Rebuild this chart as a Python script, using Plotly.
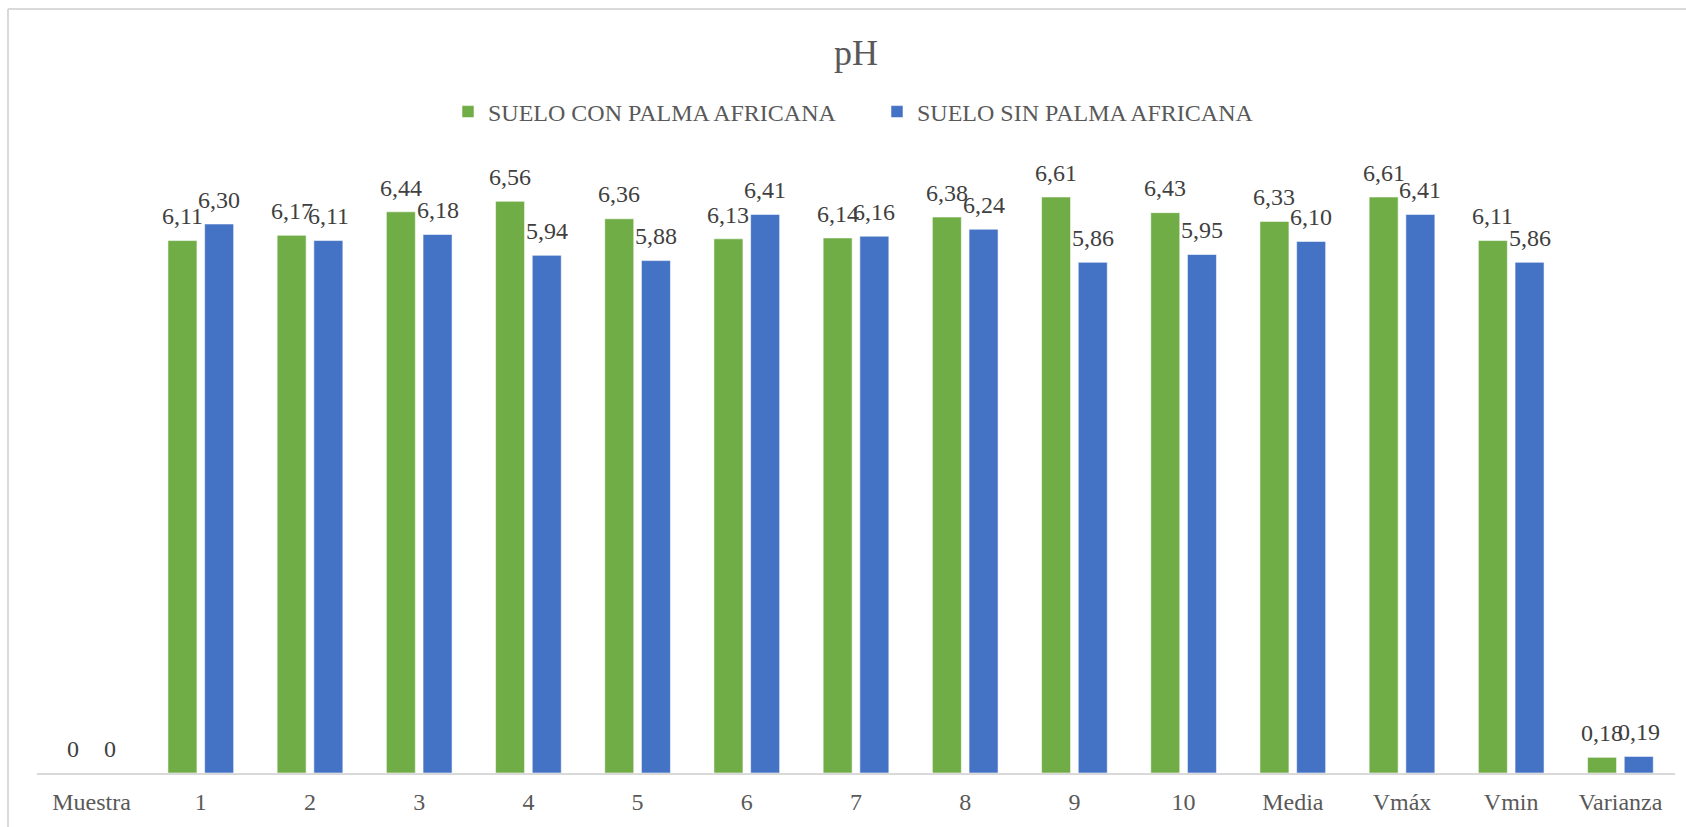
import plotly.graph_objects as go

# Categories and pH values for both soil types
categorias = ["Muestra", "1", "2", "3", "4", "5", "6", "7", "8", "9", "10",
              "Media", "Vmáx", "Vmin", "Varianza"]
con_palma = [0, 6.11, 6.17, 6.44, 6.56, 6.36, 6.13, 6.14, 6.38, 6.61, 6.43,
             6.33, 6.61, 6.11, 0.18]
sin_palma = [0, 6.30, 6.11, 6.18, 5.94, 5.88, 6.41, 6.16, 6.24, 5.86, 5.95,
             6.10, 6.41, 5.86, 0.19]
series_nombres = ["SUELO CON PALMA AFRICANA", "SUELO SIN PALMA AFRICANA"]
colores = ["#70AD47", "#4472C4"]

FONT = "'Liberation Serif', 'Times New Roman', serif"
W, H = 1686, 827
ML, MR, MT, MB = 37, 11, 163, 54
PLOT_W = W - ML - MR
PLOT_H = H - MT - MB


def etiqueta(v):
    if v == 0:
        return "0"
    return f"{v:.2f}".replace(".", ",")


fig = go.Figure()
for nombre, valores, color in zip(series_nombres, [con_palma, sin_palma], colores):
    fig.add_trace(go.Bar(
        x=categorias, y=valores, name=nombre,
        marker=dict(color=color, line=dict(color="rgba(255,255,255,0.55)", width=1)),
        hoverinfo="x+y",
    ))

# value labels above each bar
cat_w = PLOT_W / len(categorias)
slot = cat_w * (1 - 0.3278) / 2
anns = []
for k, valores in enumerate([con_palma, sin_palma]):
    shift = -slot / 2 if k == 0 else slot / 2
    for c, v in zip(categorias, valores):
        anns.append(dict(
            x=c, y=v, xref="x", yref="y", text=etiqueta(v), showarrow=False,
            xanchor="center", yanchor="middle", xshift=shift, yshift=24.3,
            font=dict(family=FONT, size=24, color="#404040"),
        ))


def px_x(px):
    return (px - ML) / PLOT_W


def px_y(py):
    return (H - MB - py) / PLOT_H


# outer chart frame (top and left edges)
shapes = [
    dict(type="line", xref="paper", yref="paper", x0=px_x(8), x1=px_x(W + 5),
         y0=px_y(9), y1=px_y(9), line=dict(color="#D9D9D9", width=2)),
    dict(type="line", xref="paper", yref="paper", x0=px_x(8), x1=px_x(8),
         y0=px_y(9), y1=px_y(H + 5), line=dict(color="#D9D9D9", width=2)),
]

fig.update_layout(
    width=W, height=H,
    margin=dict(l=ML, r=MR, t=MT, b=MB, autoexpand=False),
    paper_bgcolor="white", plot_bgcolor="white",
    barmode="group", bargap=0.3278, bargroupgap=0.2098,
    title=dict(text="pH", x=px_x(856), xref="paper", xanchor="center",
               y=1 - 52.5 / H, yref="container", yanchor="middle",
               font=dict(family=FONT, size=36, color="#595959")),
    legend=dict(orientation="h", x=px_x(448), xanchor="left",
                y=px_y(112), yanchor="middle",
                font=dict(family=FONT, size=24, color="#595959"),
                entrywidth=384, entrywidthmode="pixels",
                bgcolor="rgba(0,0,0,0)", borderwidth=0),
    xaxis=dict(type="category", showgrid=False, zeroline=False,
               showline=True, linecolor="#D9D9D9", linewidth=2,
               ticks="outside", ticklen=6, tickcolor="rgba(0,0,0,0)",
               tickfont=dict(family=FONT, size=24, color="#595959")),
    yaxis=dict(range=[0, 7], visible=False, showgrid=False, zeroline=False),
    annotations=anns,
    shapes=shapes,
    showlegend=True,
)

fig.write_html("out.html")
